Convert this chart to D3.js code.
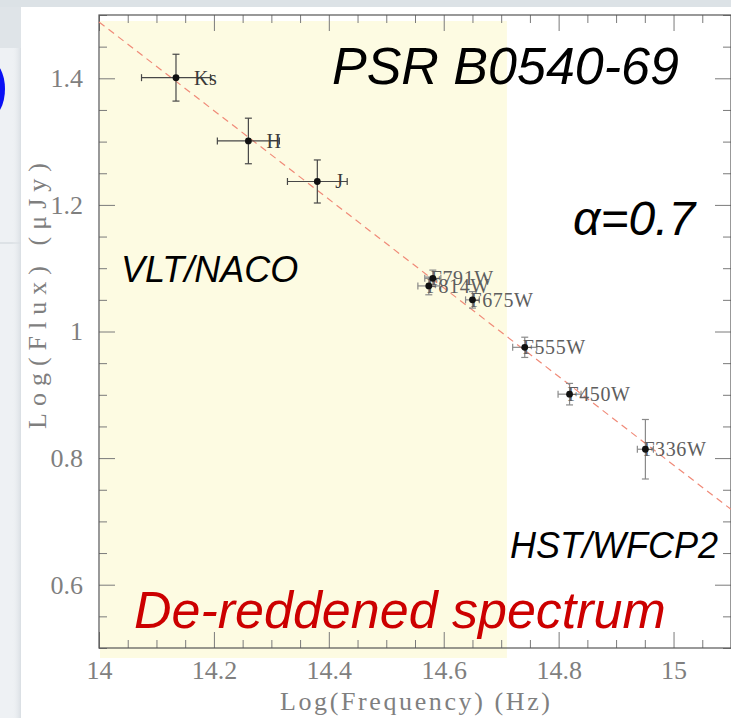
<!DOCTYPE html>
<html>
<head>
<meta charset="utf-8">
<script src="https://cdn.jsdelivr.net/npm/d3@7"></script>
<style>
  html, body { margin: 0; padding: 0; background: #eef1f4; }
  svg { display: block; }
</style>
</head>
<body>
<svg id="chart" width="731" height="718"></svg>
<script>
// Photometric points of PSR B0540-69 (de-reddened)
const bands      = ["Ks", "H", "J", "F791W", "F814W", "F675W", "F555W", "F450W", "F336W"];
const instrument = ["NACO", "NACO", "NACO", "WFPC2", "WFPC2", "WFPC2", "WFPC2", "WFPC2", "WFPC2"];
const logFreq    = [14.134, 14.260, 14.380, 14.581, 14.574, 14.650, 14.741, 14.819, 14.951];
const logFlux    = [1.401, 1.301, 1.237, 1.084, 1.072, 1.050, 0.975, 0.901, 0.814];
const freqErr    = [0.060, 0.054, 0.052, 0.014, 0.019, 0.012, 0.021, 0.020, 0.014];
const fluxErr    = [0.037, 0.036, 0.034, 0.013, 0.014, 0.013, 0.016, 0.017, 0.047];

// Power-law fit: log F = fitAt14 - alpha * (log nu - 14)
const alpha = 0.7;
const fitAt14 = 1.489;

// Axis ticks
const xTicks = [14, 14.2, 14.4, 14.6, 14.8, 15];
const xTickLabels = ["14", "14.2", "14.4", "14.6", "14.8", "15"];
const yTicks = [0.6, 0.8, 1.0, 1.2, 1.4];
const yTickLabels = ["0.6", "0.8", "1", "1.2", "1.4"];

// Near-IR (VLT/NACO) frequency band highlighted
const nacoBand = [14, 14.71];

const svg = d3.select("#chart");
const W = 731, H = 718;

// ---- presentation-slide backdrop ----
svg.append("rect").attr("x", 0).attr("y", 0).attr("width", W).attr("height", H).attr("fill", "#eef1f4");
svg.append("rect").attr("x", 0).attr("y", 0).attr("width", 21).attr("height", 48).attr("fill", "#dfe4e8");
svg.append("rect").attr("x", 0).attr("y", 242).attr("width", 21).attr("height", 2).attr("fill", "#dde2e6");
svg.append("rect").attr("x", 0).attr("y", 0).attr("width", W).attr("height", 7).attr("fill", "#dce2e6");
svg.append("ellipse").attr("cx", -10).attr("cy", 89).attr("rx", 15).attr("ry", 28).attr("fill", "#0a10f5");
const shadow = svg.append("defs").append("linearGradient").attr("id", "edgeShade")
  .attr("x1", 0).attr("x2", 1).attr("y1", 0).attr("y2", 0);
shadow.append("stop").attr("offset", 0).attr("stop-color", "#eef1f4").attr("stop-opacity", 0);
shadow.append("stop").attr("offset", 1).attr("stop-color", "#d9dee3").attr("stop-opacity", 1);
svg.append("rect").attr("x", 12).attr("y", 48).attr("width", 9).attr("height", H - 48).attr("fill", "url(#edgeShade)");
svg.append("rect").attr("x", 21).attr("y", 7).attr("width", W - 21).attr("height", H - 7).attr("fill", "#ffffff");

// ---- scales ----
const x = d3.scaleLinear().domain([14, 15.1]).range([99, 731]);
const y = d3.scaleLinear().domain([0.5, 1.5]).range([648, 15]);
const [x0, x1] = x.range();
const [yb, yt] = y.range();

// highlighted NACO band
svg.append("rect")
  .attr("x", x(nacoBand[0]) + 1)
  .attr("y", yt + 6)
  .attr("width", x(nacoBand[1]) - x(nacoBand[0]) - 1)
  .attr("height", yb - yt + 4)
  .attr("fill", "#fdfbe2");

// ---- axes: major and minor ticks on all four sides, pointing inward ----
const xMinor = d3.range(14, 15.1001, 0.05).filter(v => !xTicks.some(t => Math.abs(t - v) < 1e-6));
const yMinor = d3.range(0.5, 1.5001, 0.05).filter(v => !yTicks.some(t => Math.abs(t - v) < 1e-6));

const tickFont = "'Liberation Serif', 'DejaVu Serif', serif";

function styleAxis(g) {
  g.select(".domain").remove();
  g.selectAll(".tick line").attr("stroke", "#7a7a7a").attr("stroke-width", 1);
  g.selectAll(".tick text").attr("fill", "#7f7f7f").attr("font-family", tickFont).attr("font-size", 26);
}

svg.append("g").attr("transform", `translate(0,${yb})`)
  .call(d3.axisBottom(x).tickValues(xTicks).tickSize(-16).tickPadding(13)
    .tickFormat((d, i) => xTickLabels[i]))
  .call(styleAxis);
svg.append("g").attr("transform", `translate(0,${yb})`)
  .call(d3.axisBottom(x).tickValues(xMinor).tickSize(-8).tickFormat(""))
  .call(styleAxis);
svg.append("g").attr("transform", `translate(0,${yt})`)
  .call(d3.axisTop(x).tickValues(xTicks).tickSize(-16).tickFormat(""))
  .call(styleAxis);
svg.append("g").attr("transform", `translate(0,${yt})`)
  .call(d3.axisTop(x).tickValues(xMinor).tickSize(-8).tickFormat(""))
  .call(styleAxis);

svg.append("g").attr("transform", `translate(${x0},0)`)
  .call(d3.axisLeft(y).tickValues(yTicks).tickSize(-16).tickPadding(16)
    .tickFormat((d, i) => yTickLabels[i]))
  .call(styleAxis);
svg.append("g").attr("transform", `translate(${x0},0)`)
  .call(d3.axisLeft(y).tickValues(yMinor).tickSize(-8).tickFormat(""))
  .call(styleAxis);
svg.append("g").attr("transform", `translate(${x1},0)`)
  .call(d3.axisRight(y).tickValues(yTicks).tickSize(-16).tickFormat(""))
  .call(styleAxis);
svg.append("g").attr("transform", `translate(${x1},0)`)
  .call(d3.axisRight(y).tickValues(yMinor).tickSize(-8).tickFormat(""))
  .call(styleAxis);

// plot frame
svg.append("rect")
  .attr("x", x0).attr("y", yt)
  .attr("width", x1 - x0).attr("height", yb - yt)
  .attr("fill", "none").attr("stroke", "#555").attr("stroke-width", 1.2);

// axis titles
svg.append("text")
  .attr("x", 415).attr("y", 710)
  .attr("text-anchor", "middle")
  .attr("font-family", tickFont).attr("font-size", 26)
  .attr("fill", "#7f7f7f")
  .attr("textLength", 270).attr("lengthAdjust", "spacing")
  .text("Log(Frequency) (Hz)");
svg.append("text")
  .attr("transform", "translate(46,296) rotate(-90)")
  .attr("text-anchor", "middle")
  .attr("font-family", tickFont).attr("font-size", 26)
  .attr("fill", "#7f7f7f")
  .attr("textLength", 266).attr("lengthAdjust", "spacing")
  .text("Log(Flux) (\u03BCJy)");

// ---- power-law fit line ----
const fit = v => fitAt14 - alpha * (v - 14);
const fitDomain = x.domain();
svg.append("line")
  .attr("x1", x(fitDomain[0])).attr("y1", y(fit(fitDomain[0])))
  .attr("x2", x(fitDomain[1])).attr("y2", y(fit(fitDomain[1])))
  .attr("stroke", "#f08a78").attr("stroke-width", 1.2)
  .attr("stroke-dasharray", "7,5");

// ---- points with error bars ----
const pts = bands.map((b, i) => ({
  band: b, inst: instrument[i],
  nu: logFreq[i], f: logFlux[i], dnu: freqErr[i], df: fluxErr[i]
}));

const cap = 3.5;
const g = svg.append("g");
pts.forEach(d => {
  const col = d.inst === "NACO" ? "#474747" : "#8a8a8a";
  const cx = x(d.nu), cy = y(d.f);
  const xl = x(d.nu - d.dnu), xr = x(d.nu + d.dnu);
  const yu = y(d.f + d.df), yd = y(d.f - d.df);
  const e = g.append("g").attr("stroke", col).attr("stroke-width", 1.2);
  e.append("line").attr("x1", xl).attr("x2", xr).attr("y1", cy).attr("y2", cy);
  e.append("line").attr("x1", xl).attr("x2", xl).attr("y1", cy - cap).attr("y2", cy + cap);
  e.append("line").attr("x1", xr).attr("x2", xr).attr("y1", cy - cap).attr("y2", cy + cap);
  e.append("line").attr("x1", cx).attr("x2", cx).attr("y1", yu).attr("y2", yd);
  e.append("line").attr("x1", cx - cap).attr("x2", cx + cap).attr("y1", yu).attr("y2", yu);
  e.append("line").attr("x1", cx - cap).attr("x2", cx + cap).attr("y1", yd).attr("y2", yd);
});

// band labels
g.selectAll("text.band")
  .data(pts)
  .join("text")
  .attr("class", "band")
  .attr("x", d => x(d.nu) + (d.inst === "NACO" ? 18 : -2))
  .attr("y", d => y(d.f) + 7)
  .attr("font-family", tickFont)
  .attr("font-size", 20)
  .attr("letter-spacing", 0.6)
  .attr("fill", d => d.inst === "NACO" ? "#3a3a3a" : "#5e5e5e")
  .text(d => d.band);

g.selectAll("circle")
  .data(pts)
  .join("circle")
  .attr("cx", d => x(d.nu))
  .attr("cy", d => y(d.f))
  .attr("r", 3.4)
  .attr("fill", "#111");

// ---- annotations ----
const sans = "'Liberation Sans', Arial, sans-serif";
function note(txt, px, py, size, color) {
  svg.append("text")
    .attr("x", px).attr("y", py)
    .attr("font-family", sans).attr("font-style", "italic")
    .attr("font-size", size).attr("fill", color)
    .text(txt);
}
note("PSR B0540-69", 332, 84, 52, "#000");
note("\u03B1=0.7", 573, 235, 48, "#000");
note("VLT/NACO", 121, 282, 36, "#000");
note("HST/WFCP2", 510, 558, 36, "#000");
note("De-reddened spectrum", 134, 628, 52, "#cc0000");
</script>
</body>
</html>
